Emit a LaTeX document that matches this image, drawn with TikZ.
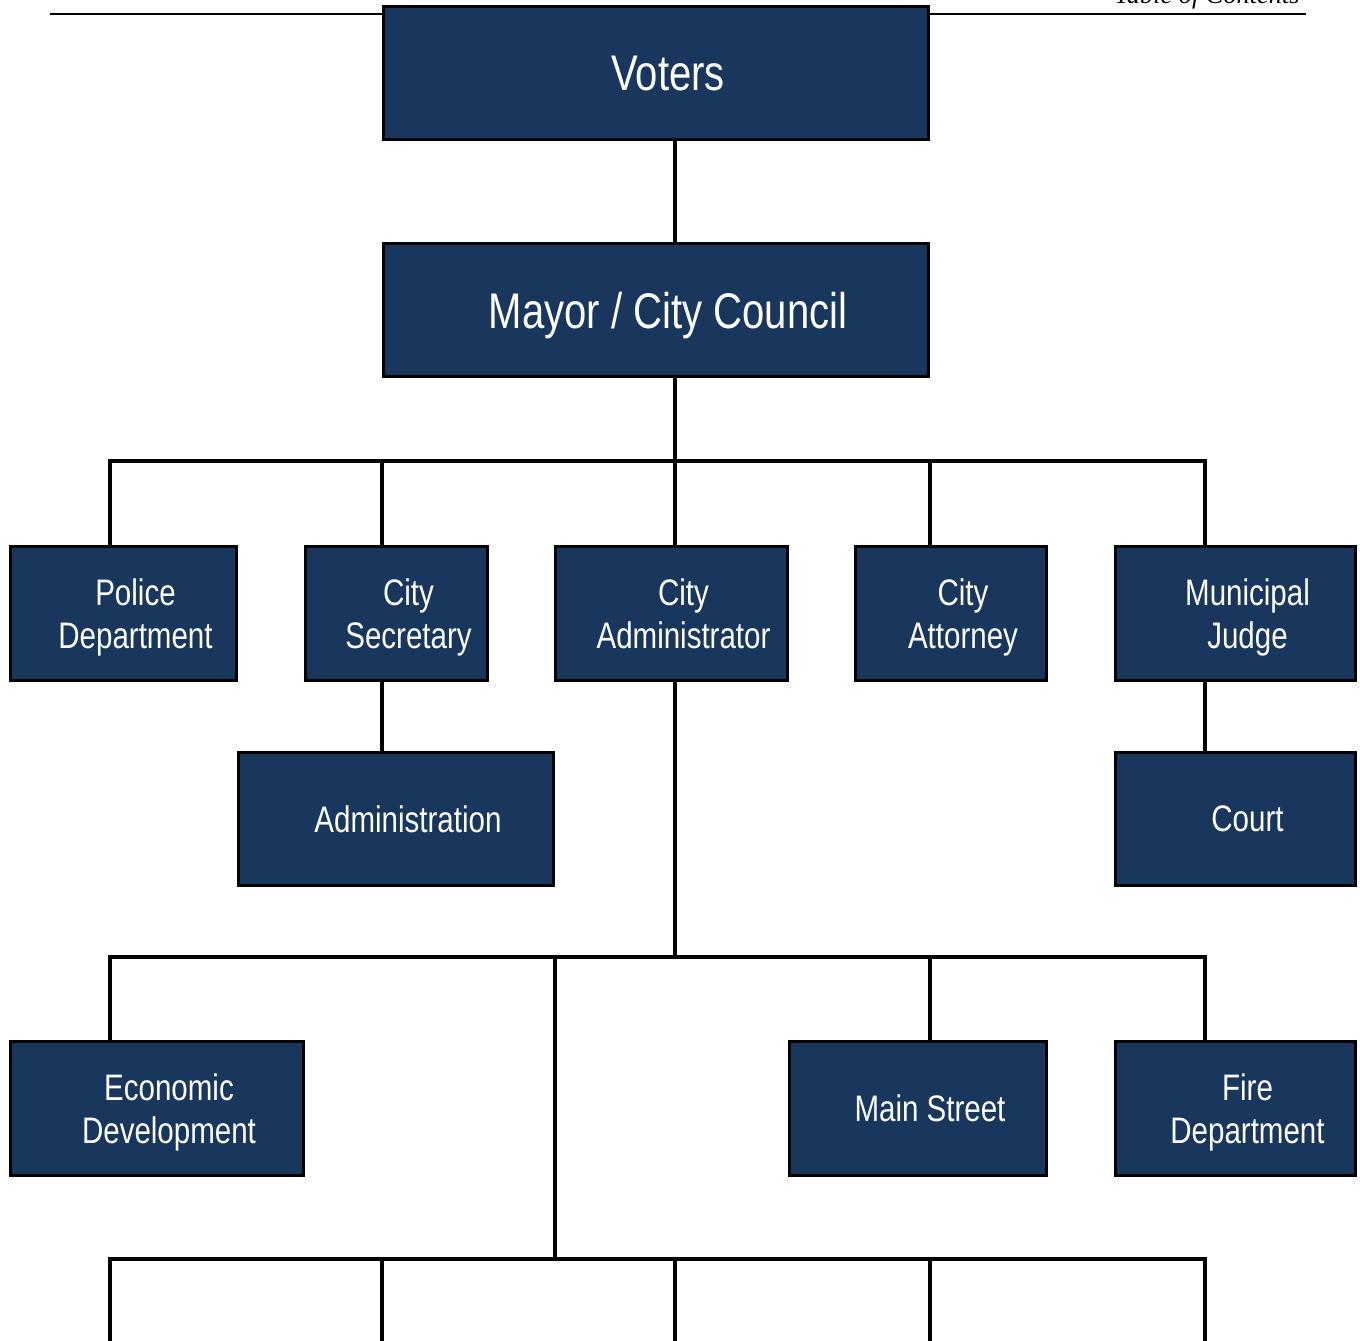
\documentclass[tikz,border=0pt]{standalone}
\usepackage{fontspec}
\setmainfont[FakeStretch=0.8]{Liberation Sans}
\newfontfamily\headfont{Liberation Serif}
\usetikzlibrary{backgrounds}
\definecolor{cbox}{HTML}{19365C}

\begin{document}
\begin{tikzpicture}[
  x=0.02cm, y=-0.02cm,
  box/.style={draw=black, line width=1.9pt, fill=cbox, inner sep=0pt, minimum height=2.68cm},
  txt/.style={text=white, align=center, xshift=0.24cm, inner sep=0pt, text depth=0pt},
  toplbl/.style={font=\fontsize{28.5}{33}\selectfont},
  unitlbl/.style={font=\fontsize{21}{24.5}\selectfont},
  link/.style={line width=2pt, line cap=rect},
]
\useasboundingbox (0,0) rectangle (1360,1341);
\clip (0,0) rectangle (1360,1341);

% ---- page header ----
\node[anchor=base east, inner sep=0pt, font=\headfont\itshape\fontsize{15}{17}\selectfont] (toc) at (1300,4) {Table of Contents};

% ---- top ----
\node[box, minimum width=10.9cm, minimum height=2.66cm, label={[txt,toplbl]center:Voters}] (voters) at (656,73) {};
\node[box, minimum width=10.9cm, minimum height=2.66cm, label={[txt,toplbl]center:Mayor / City Council}] (council) at (656,310) {};

% ---- first level ----
\node[box, minimum width=4.52cm, label={[txt,unitlbl]center:Police\\Department}] (police) at (123.5,613.5) {};
\node[box, minimum width=3.64cm, label={[txt,unitlbl]center:City\\Secretary}] (secretary) at (396.5,613.5) {};
\node[box, minimum width=4.64cm, label={[txt,unitlbl]center:City\\Administrator}] (admin) at (671.5,613.5) {};
\node[box, minimum width=3.82cm, label={[txt,unitlbl]center:City\\Attorney}] (attorney) at (951,613.5) {};
\node[box, minimum width=4.8cm, label={[txt,unitlbl]center:Municipal\\Judge}] (judge) at (1235.5,613.5) {};

\node[box, minimum width=6.3cm, minimum height=2.66cm, label={[txt,unitlbl]center:Administration}] (administration) at (396,819) {};
\node[box, minimum width=4.8cm, minimum height=2.66cm, label={[txt,unitlbl]center:Court}] (court) at (1235.5,819) {};

% ---- second level ----
\node[box, minimum width=5.86cm, label={[txt,unitlbl]center:Economic\\Development}] (econ) at (157,1108.5) {};
\node[box, minimum width=5.14cm, label={[txt,unitlbl]center:Main Street}] (mainst) at (918,1108.5) {};
\node[box, minimum width=4.8cm, label={[txt,unitlbl]center:Fire\\Department}] (fire) at (1235.5,1108.5) {};

% ---- connectors ----
\begin{scope}[on background layer]
  \draw[line width=1.1pt] (50,14) -- (1306,14);

  \coordinate (bus1w) at (110,461);
  \coordinate (bus1e) at (1205,461);
  \draw[link] (bus1w) -- (bus1e);
  \foreach \x/\n in {110/police,382/secretary,675/admin,930/attorney,1205/judge}{
    \coordinate (t-\n) at (\x,461);
    \draw[link] (t-\n) -- (t-\n |- \n.north);
  }
  \draw[link] (t-admin |- voters.south) -- (t-admin |- council.north);
  \draw[link] (t-admin |- council.south) -- (t-admin);
  \draw[link] (t-secretary |- secretary.south) -- (t-secretary |- administration.north);
  \draw[link] (t-judge |- judge.south) -- (t-judge |- court.north);

  \coordinate (bus2w) at (110,957);
  \coordinate (bus2e) at (1205,957);
  \draw[link] (t-admin |- admin.south) -- (t-admin |- bus2w);
  \draw[link] (bus2w) -- (bus2e);
  \foreach \x/\n in {110/econ,930/mainst,1205/fire}{
    \coordinate (u-\n) at (\x,957);
    \draw[link] (u-\n) -- (u-\n |- \n.north);
  }

  \coordinate (u-down) at (555,957);
  \coordinate (bus3w) at (110,1259);
  \coordinate (bus3e) at (1205,1259);
  \draw[link] (u-down) -- (u-down |- bus3w);
  \draw[link] (bus3w) -- (bus3e);
  \foreach \x in {110,382,675,930,1205}{
    \coordinate (v-\x) at (\x,1259);
    \coordinate (w-\x) at (\x,1341);
    \draw[link] (v-\x) -- (w-\x);
  }
\end{scope}
\end{tikzpicture}
\end{document}
